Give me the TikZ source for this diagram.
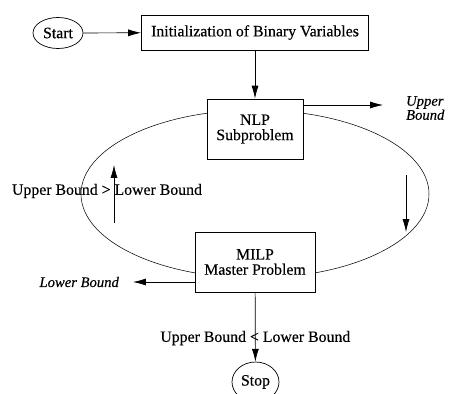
\documentclass[tikz,border=0pt]{standalone}
\usepackage{fontspec}
\setmainfont{Liberation Serif}[FakeBold=0.35]
\usetikzlibrary{shapes.geometric,arrows.meta}

\begin{document}
\begin{tikzpicture}[x=0.03cm, y=-0.03cm,
    font=\fontsize{13.5}{13}\selectfont,
    box/.style={draw, line width=0.7pt, fill=white, align=center, inner sep=0pt},
    term/.style={draw, line width=0.6pt, ellipse, fill=white, inner sep=0pt},
    arr/.style={line width=0.6pt, -{Latex[length=11pt,width=6pt]}},
    bound/.style={font=\fontsize{12.5}{12}\selectfont\itshape, align=left}]
    \useasboundingbox (0,0) rectangle (450,393);
    % Iteration loop
    \draw[line width=0.45pt] (255,194) ellipse [x radius=174, y radius=84];
    % Blocks
    \node[term, minimum width=1.5cm, minimum height=0.93cm] (start) at (58,33) {Start};
    \node[box, minimum width=6.81cm, minimum height=1.05cm] (init) at (255,32.5) {Initialization of Binary Variables};
    \node[box, minimum width=2.88cm, minimum height=1.8cm] (nlp) at (255,129) {NLP\\Subproblem};
    \node[box, minimum width=3.6cm, minimum height=1.8cm] (milp) at (255,262) {MILP\\Master Problem};
    \node[term, minimum width=1.41cm, minimum height=1.2cm] (stop) at (255.5,382) {Stop};
    % Flow
    \draw[arr] (start) -- (init);
    \draw[arr] (init) -- (nlp);
    \draw[arr] (milp) -- node[pos=0.66] (stoplab) {Upper Bound < Lower Bound} (stop);
    % Bounds
    \coordinate (ubtip) at (383,105);
    \draw[arr] (nlp.east |- ubtip) -- (ubtip);
    \node[bound, anchor=west] (ub) at (402,108) {Upper\\Bound};
    \coordinate (lbtip) at (133,282);
    \draw[arr] (milp.west |- lbtip) -- (lbtip);
    \node[bound, anchor=east] (lb) at (123,282) {Lower Bound};
    % Loop direction
    \coordinate (upfrom) at (114,223);
    \coordinate (upto) at (114,165);
    \draw[arr] (upfrom) -- (upto);
    \node (looplab) at (107,191) {Upper Bound > Lower Bound};
    \coordinate (downfrom) at (406,175);
    \coordinate (downto) at (406,232);
    \draw[arr] (downfrom) -- (downto);
\end{tikzpicture}
\end{document}
